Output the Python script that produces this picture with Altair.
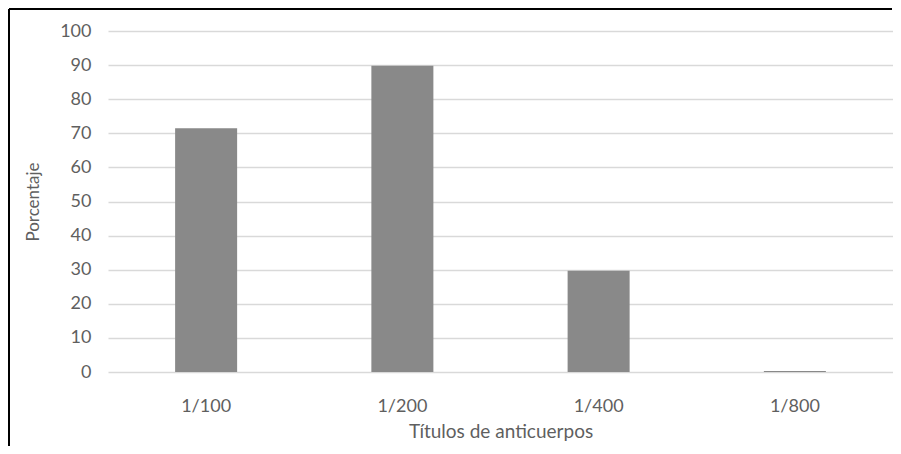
import altair as alt
import pandas as pd

categories = ["1/100", "1/200", "1/400", "1/800"]
values = [71.5, 89.8, 29.7, 0.3]

df = pd.DataFrame({"titulo": categories, "porcentaje": values})

FONT = "Lato"
GRAY = "#5f5f5f"

bars = alt.Chart(df).mark_bar(color="#898989").encode(
    x=alt.X("titulo:N", sort=categories,
            scale=alt.Scale(paddingInner=0.684, paddingOuter=0.342),
            axis=alt.Axis(title="Títulos de anticuerpos", labelAngle=0, ticks=False, domain=False,
                          labelPadding=25, titlePadding=7, labelFontSize=18, titleFontSize=19,
                          labelColor=GRAY, titleColor=GRAY, labelFont=FONT, titleFont=FONT,
                          titleFontWeight="normal")),
    y=alt.Y("porcentaje:Q", scale=alt.Scale(domain=[0, 100], nice=False),
            axis=alt.Axis(title="Porcentaje", values=list(range(0, 101, 10)), ticks=False, domain=False,
                          grid=True, gridColor="#d9d9d9", gridWidth=1.5,
                          labelPadding=17, titlePadding=17, labelFontSize=18, titleFontSize=17,
                          labelColor=GRAY, titleColor=GRAY, labelFont=FONT, titleFont=FONT,
                          titleFontWeight="normal")),
)

border_left = alt.Chart(df).mark_rule(color="black", strokeWidth=2).encode(
    x=alt.value(-99), y=alt.value(-22), y2=alt.value(430)
)
border_top = alt.Chart(df).mark_rule(color="black", strokeWidth=2).encode(
    x=alt.value(-99), x2=alt.value(784), y=alt.value(-22)
)

chart = alt.layer(bars, border_left, border_top).properties(
    width=785, height=341,
    autosize=alt.AutoSizeParams(type="none"),
    padding={"left": 100, "top": 23, "right": 0, "bottom": 74},
).configure_view(stroke=None)

chart.save("out.html", embed_options={"renderer": "svg", "actions": False})
